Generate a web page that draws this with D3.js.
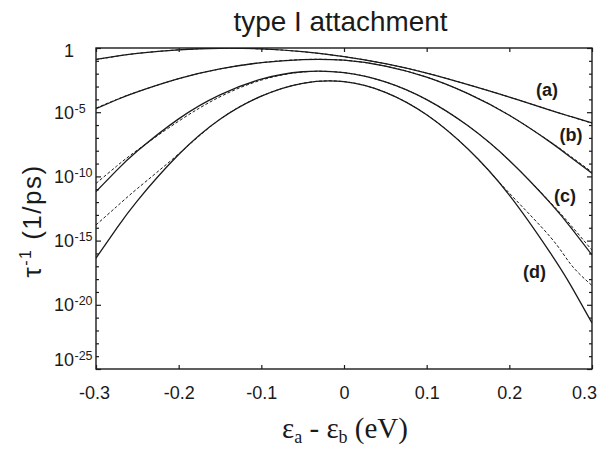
<!DOCTYPE html>
<html>
<head>
<meta charset="utf-8">
<script src="https://cdn.jsdelivr.net/npm/d3@7"></script>
<style>
  html, body { margin: 0; padding: 0; background: #fff; }
  svg { display: block; }
</style>
</head>
<body>
<svg id="chart" width="599" height="449"></svg>
<script>
// Energy offset (eV) at which each rate is sampled
const energy = [-0.3, -0.275, -0.25, -0.2, -0.15, -0.1, -0.05, 0, 0.05, 0.1, 0.15, 0.2, 0.25, 0.275, 0.3];

// log10 of the attachment rate (1/ps); solid = full result, dashed = approximation
const aSolid  = [-0.88, -0.63, -0.42, -0.14, -0.02, -0.07, -0.29, -0.67, -1.22, -1.95, -2.85, -3.82, -4.85, -5.35, -5.84];
const aDashed = [-0.90, -0.64, -0.42, -0.14, -0.02, -0.07, -0.29, -0.67, -1.22, -1.95, -2.85, -3.82, -4.85, -5.36, -5.86];
const bSolid  = [-4.72, -4.03, -3.42, -2.39, -1.63, -1.14, -0.90, -0.95, -1.41, -2.27, -3.55, -5.24, -7.35, -8.55, -9.75];
const bDashed = [-4.68, -4.01, -3.41, -2.39, -1.63, -1.14, -0.90, -0.95, -1.41, -2.27, -3.55, -5.24, -7.33, -8.48, -9.66];
const cSolid  = [-11.19, -9.53, -8.03, -5.52, -3.65, -2.43, -1.85, -1.92, -2.64, -4.02, -6.06, -8.76, -12.1, -14.03, -16.12];
const cDashed = [-10.55, -9.20, -7.95, -5.70, -3.80, -2.50, -1.87, -1.92, -2.64, -4.02, -6.06, -8.76, -12.05, -13.85, -15.75];
const dSolid  = [-16.36, -14.05, -11.9, -8.3, -5.55, -3.75, -2.75, -2.62, -3.45, -5.2, -7.87, -11.46, -16.0, -18.56, -21.42];
const dDashed = [-13.78, -12.35, -10.95, -8.25, -5.55, -3.75, -2.75, -2.62, -3.45, -5.2, -7.87, -11.3, -14.75, -16.9, -18.5];

const curveLabels = ["(a)", "(b)", "(c)", "(d)"];
const labelEnergy = [0.2456, 0.2746, 0.2673, 0.2304];
const labelLog    = [-3.74, -7.24, -11.99, -17.95];

const xTicks = [-0.3, -0.2, -0.1, 0, 0.1, 0.2, 0.3];
const yLabelExps = [0, -5, -10, -15, -20, -25];

const svg = d3.select("#chart");
const frameLeft = 96, frameRight = 592, frameTop = 48, frameBottom = 369;

const x = d3.scaleLinear().domain([-0.3, 0.3]).range([frameLeft, frameRight]);
const y = d3.scaleLog().domain([1e-25, 1]).range([frameBottom, frameTop]);

const ink = "#1a1a1a";
const sans = "Liberation Sans, Arial, sans-serif";

// Scale a text's font so that it spans the wanted width
function fitWidth(sel, width) {
  const w = sel.node().getComputedTextLength();
  if (w > 0) {
    const fs = parseFloat(sel.attr("font-size"));
    sel.attr("font-size", fs * width / w);
  }
}

// Title
const title = svg.append("text")
  .attr("x", 340.5).attr("y", 31)
  .attr("text-anchor", "middle")
  .attr("font-family", sans)
  .attr("font-size", 28)
  .attr("fill", ink)
  .text("type I attachment");
fitWidth(title, 214);

// Curves, clipped to the frame
svg.append("clipPath").attr("id", "plot-clip")
  .append("rect").attr("x", frameLeft).attr("y", frameTop)
  .attr("width", frameRight - frameLeft).attr("height", frameBottom - frameTop);

const line = d3.line()
  .x(d => x(d[0]))
  .y(d => y(Math.pow(10, d[1])))
  .curve(d3.curveNatural);

const series = [
  { v: aSolid, dash: null }, { v: aDashed, dash: "3,2" },
  { v: bSolid, dash: null }, { v: bDashed, dash: "3,2" },
  { v: cSolid, dash: null }, { v: cDashed, dash: "3,2" },
  { v: dSolid, dash: null }, { v: dDashed, dash: "3,2" }
];

const plot = svg.append("g").attr("clip-path", "url(#plot-clip)");
series.forEach(s => {
  plot.append("path")
    .datum(energy.map((e, i) => [e, s.v[i]]))
    .attr("d", line)
    .attr("fill", "none")
    .attr("stroke", ink)
    .attr("stroke-width", s.dash ? 1 : 1.3)
    .attr("stroke-dasharray", s.dash);
});

// Frame
svg.append("rect")
  .attr("x", frameLeft).attr("y", frameTop)
  .attr("width", frameRight - frameLeft).attr("height", frameBottom - frameTop)
  .attr("fill", "none").attr("stroke", ink).attr("stroke-width", 1.4);

// Inward ticks on bottom and top
const bottomAxis = d3.axisBottom(x).tickValues(xTicks).tickSize(-4).tickFormat(d => String(d));
const gb = svg.append("g").attr("transform", `translate(0,${frameBottom})`).call(bottomAxis);
gb.select(".domain").remove();
gb.selectAll(".tick line").attr("stroke", ink).attr("stroke-width", 1.2);
gb.selectAll(".tick text")
  .attr("y", 30).attr("dy", null)
  .attr("font-family", sans)
  .attr("font-size", 18)
  .attr("fill", ink)
  .attr("dx", d => d === 0.3 ? -8 : (d === -0.3 ? -2 : 0));

const topAxis = d3.axisTop(x).tickValues(xTicks).tickSize(-4).tickFormat("");
const gt = svg.append("g").attr("transform", `translate(0,${frameTop})`).call(topAxis);
gt.select(".domain").remove();
gt.selectAll(".tick line").attr("stroke", ink).attr("stroke-width", 1.2);

// Decade ticks on left and right, longer every five decades
const decades = d3.range(0, -26, -1).map(e => Math.pow(10, e));
const leftAxis = d3.axisLeft(y).tickValues(decades).tickSize(0).tickFormat("");
const gl = svg.append("g").attr("transform", `translate(${frameLeft},0)`).call(leftAxis);
gl.select(".domain").remove();
gl.selectAll(".tick").append("line")
  .attr("x1", 0)
  .attr("x2", d => (Math.round(Math.log10(d)) % 5 === 0) ? 5 : 3)
  .attr("stroke", ink).attr("stroke-width", 1.2);

const rightAxis = d3.axisRight(y).tickValues(decades).tickSize(0).tickFormat("");
const gr = svg.append("g").attr("transform", `translate(${frameRight},0)`).call(rightAxis);
gr.select(".domain").remove();
gr.selectAll(".tick").append("line")
  .attr("x1", 0)
  .attr("x2", d => (Math.round(Math.log10(d)) % 5 === 0) ? -5 : -3)
  .attr("stroke", ink).attr("stroke-width", 1.2);

// Left labels as powers of ten: the base is right-aligned, the exponent hangs after it
const yl = svg.append("g").attr("font-family", sans).attr("fill", ink);
yLabelExps.forEach(e => {
  let base = y(Math.pow(10, e)) + 6.5;
  if (e === 0) base += 2;
  if (e === -25) base -= 10;
  yl.append("text")
    .attr("x", 74).attr("y", base)
    .attr("text-anchor", "end")
    .attr("font-size", 18)
    .text(e === 0 ? "1" : "10");
  if (e !== 0) {
    yl.append("text")
      .attr("x", 74.5).attr("y", base - 6)
      .attr("font-size", 12.5)
      .text(String(e));
  }
});

// Curve labels
svg.append("g").selectAll("text")
  .data(curveLabels)
  .join("text")
  .attr("x", (d, i) => x(labelEnergy[i]))
  .attr("y", (d, i) => y(Math.pow(10, labelLog[i])))
  .attr("text-anchor", "middle")
  .attr("font-family", sans)
  .attr("font-weight", "bold")
  .attr("font-size", 18)
  .attr("fill", ink)
  .text(d => d);

// Axis titles
const xTitle = svg.append("text")
  .attr("x", 345).attr("y", 438)
  .attr("text-anchor", "middle")
  .attr("font-family", "Liberation Serif, Times New Roman, serif")
  .attr("font-size", 29)
  .attr("fill", ink);
xTitle.append("tspan").text("ε");
xTitle.append("tspan").attr("dy", 5).attr("font-size", 18).text("a");
xTitle.append("tspan").attr("dy", -5).text(" - ε");
xTitle.append("tspan").attr("dy", 5).attr("font-size", 18).text("b");
xTitle.append("tspan").attr("dy", -5).text(" (eV)");

const yTitle = svg.append("text")
  .attr("transform", "translate(41,221) rotate(-90)")
  .attr("text-anchor", "middle")
  .attr("font-family", sans)
  .attr("font-size", 26)
  .attr("letter-spacing", 1.5)
  .attr("fill", ink);
yTitle.append("tspan").text("τ");
yTitle.append("tspan").attr("dy", -10).attr("font-size", 16).text("-1");
yTitle.append("tspan").attr("dy", 10).text(" (1/ps)");
</script>
</body>
</html>
